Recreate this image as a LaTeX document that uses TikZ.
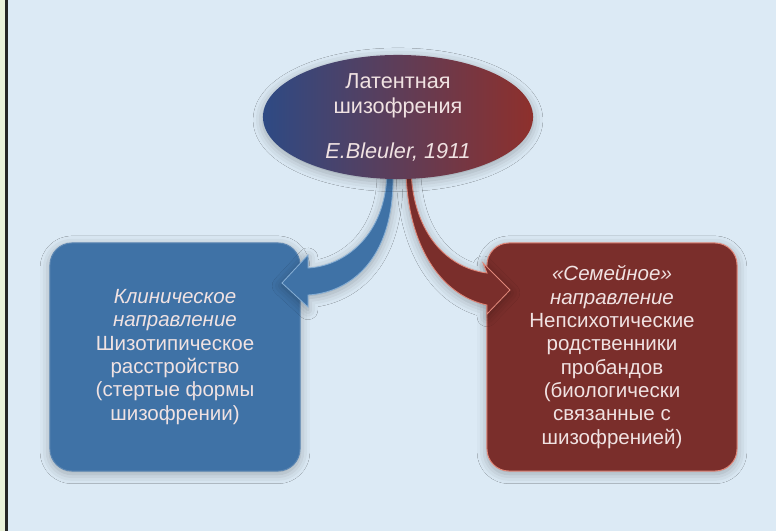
\documentclass[tikz,border=0pt]{standalone}
\usepackage{fontspec}
\setmainfont{Liberation Sans}
\usetikzlibrary{shapes.geometric,shadows.blur}
\definecolor{bgblue}{HTML}{DCEAF5}
\definecolor{stripgreen}{HTML}{EAF2DA}
\definecolor{boxblue}{HTML}{3F72A6}
\definecolor{boxred}{HTML}{7A2E2B}
\definecolor{ovalblue}{HTML}{2E4A84}
\definecolor{ovalred}{HTML}{8E302C}
\definecolor{textpink}{HTML}{F0E2E2}
\definecolor{edgeblue}{HTML}{86AED4}
\definecolor{edgered}{HTML}{E0887A}

\begin{document}
\begin{tikzpicture}
      [   x=0.025cm, y=-0.025cm,
          glow/.style={blur shadow={shadow xshift=0pt, shadow yshift=-2pt,
                       shadow blur radius=7pt, shadow opacity=30}},
          box/.style={draw=#1, fill=#1, line width=0.7pt, rounded corners=0.55cm,
                      minimum width=6.25cm, minimum height=5.7cm, inner sep=0pt,
                      text=textpink, align=center,
                      font=\fontsize{14.6}{16.6}\selectfont, glow},
          oval/.style={ellipse, left color=ovalblue, right color=ovalred,
                       minimum width=6.75cm, minimum height=2.83cm, inner sep=0pt,
                       text=textpink, align=center,
                       font=\fontsize{15.4}{17.8}\selectfont, glow},
      ]
          % background
          \fill[bgblue] (0,0) rectangle (776,531);
          \fill[stripgreen] (0,0) rectangle (5,531);
          \fill[black!85] (5,0) rectangle (8,531);
          \useasboundingbox (0,0) rectangle (776,531);

          \node[box=boxblue, draw=boxblue!85!white] (clinic) at (175,357)
               {\textit{Клиническое}\\\textit{направление}\\Шизотипическое\\расстройство\\(стертые формы\\шизофрении)};
          \node[box=boxred, draw=edgered] (family) at (612,357)
               {\textit{«Семейное»}\\\textit{направление}\\Непсихотические\\родственники\\пробандов\\(биологически\\связанные с\\шизофренией)};

          % curved arrows
          \filldraw[fill=boxblue, draw=edgeblue, line width=0.6pt, glow]
               (387,172) .. controls (386,235) and (345,266) .. (308,268)
               -- (308,255) -- (282,283) -- (308,307) -- (308,295)
               .. controls (345,293) and (395,265) .. (393,172) -- cycle;
          \filldraw[fill=boxred, draw=edgered, line width=0.6pt, glow]
               (406,172) .. controls (408,245) and (440,295) .. (487,305)
               -- (487,314) -- (510,290) -- (483,263) -- (487,273)
               .. controls (448,268) and (414,235) .. (411,172) -- cycle;

          \node[oval] (latent) at (398,117)
               {Латентная\\шизофрения\\[0.5cm]\textit{E.Bleuler, 1911}};
    \end{tikzpicture}
\end{document}
